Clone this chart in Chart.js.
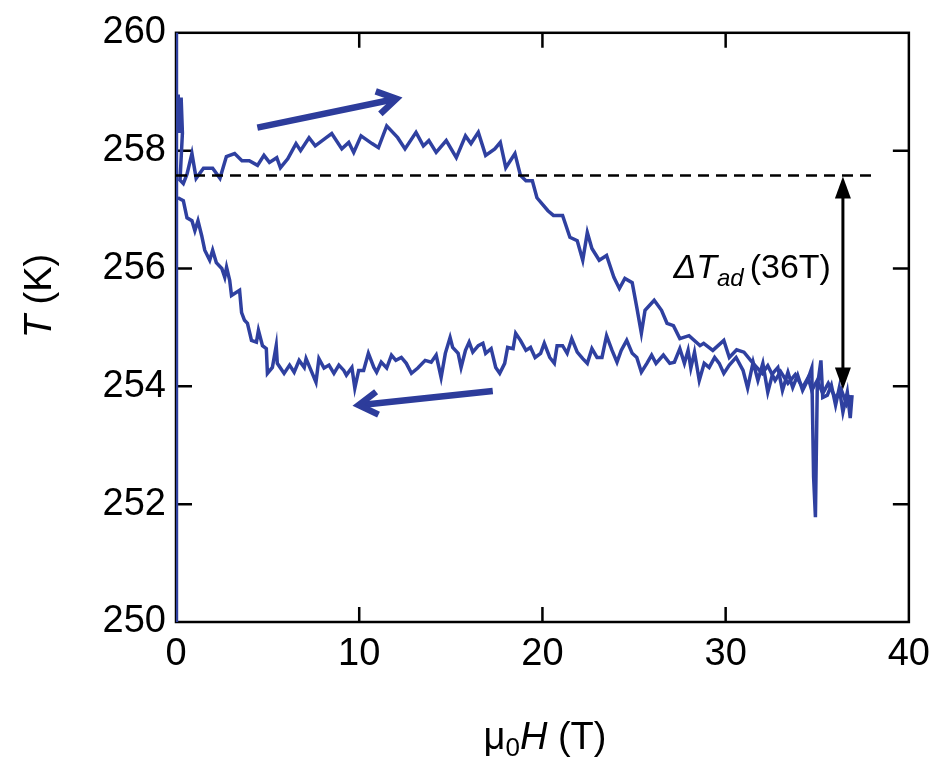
<!DOCTYPE html>
<html>
<head>
<meta charset="utf-8">
<script src="https://cdn.jsdelivr.net/npm/chart.js@4.4.1/dist/chart.umd.min.js"></script>
<style>
  body { margin: 0; background: #fff; }
</style>
</head>
<body>
<canvas id="chart" width="940" height="757"></canvas>
<script>
// field sweep up (T vs mu0H)
const upField = [0, 0, 0.05, 0.12, 0.2, 0.28, 0.35, 0.22, 0.4, 0.6, 0.87, 1.1, 1.5, 2.0, 2.4, 2.75, 3.2, 3.6, 4.0, 4.45,
  4.8, 5.1, 5.5, 5.7, 6.1, 6.55, 6.8, 7.26, 7.6, 8.2, 8.5, 9.05, 9.43, 9.7, 10.1, 10.7, 11.05, 11.5, 12.1, 12.5,
  13.1, 13.5, 13.8, 14.2, 14.75, 15.3, 15.8, 16.1, 16.5, 16.9, 17.4, 17.7, 18.0, 18.5, 18.8, 19.1, 19.45, 19.7, 20.3, 20.6,
  21.1, 21.5, 21.9, 22.2, 22.45, 22.7, 23.1, 23.5, 23.9, 24.2, 24.5, 24.9, 25.15, 25.4, 25.6, 26.1, 26.5, 26.8, 27.15, 27.5,
  28.0, 28.6, 28.8, 29.3, 29.9, 30.2, 30.6, 31.0, 31.5, 32.0, 32.3, 32.7, 33.0, 33.4, 33.8, 34.2, 34.5, 34.7, 35.0, 35.3,
  35.6, 36.0, 36.3, 36.6, 36.8];
const upTemp = [250, 260.3, 258.3, 258.95, 258.3, 258.9, 258.3, 257.5, 257.44, 257.6, 257.95, 257.53, 257.7, 257.7, 257.53, 257.9, 257.95, 257.83, 257.83, 257.75,
  257.92, 257.8, 257.88, 257.71, 257.86, 258.12, 258.0, 258.22, 258.08, 258.22, 258.29, 258.03, 258.14, 257.97, 258.25, 258.12, 258.05, 258.42, 258.22, 258.03,
  258.31, 258.08, 258.17, 257.97, 258.17, 257.88, 258.25, 258.12, 258.31, 257.92, 258.03, 258.14, 257.71, 257.95, 257.58, 257.49, 257.49, 257.2, 256.98, 256.9,
  256.9, 256.53, 256.47, 256.14, 256.61, 256.34, 256.14, 256.22, 255.85, 255.66, 255.83, 255.76, 255.34, 254.9, 255.29, 255.46, 255.29, 255.07, 255.03, 254.81,
  254.86, 254.69, 254.73, 254.61, 254.78, 254.49, 254.62, 254.58, 254.39, 254.22, 254.35, 254.1, 254.25, 254.05, 254.2, 253.98, 254.15, 253.93, 254.1, 253.88,
  254.05, 253.8, 253.95, 253.7, 253.85];

// field sweep down (listed from low field to high field)
const downField = [0.1, 0.4, 0.6, 0.87, 1.03, 1.2, 1.4, 1.57, 1.84, 2.0, 2.2, 2.5, 2.66, 2.76, 2.93, 3.03, 3.47, 3.58, 3.74, 3.9,
  4.12, 4.39, 4.5, 4.72, 4.93, 4.99, 5.26, 5.47, 5.53,
  5.9, 6.2, 6.45, 6.72, 7.0, 7.1, 7.37, 7.64, 7.8, 8.08, 8.35, 8.62, 8.89, 9.16, 9.3, 9.6, 9.76, 9.97, 10.24, 10.5,
  10.8, 10.95, 11.2, 11.5, 11.76, 12.0, 12.3, 12.57, 12.85, 13.2, 13.6, 13.93, 14.2, 14.47, 14.7, 14.96, 15.1, 15.4, 15.56, 15.8,
  16.0, 16.2, 16.5, 16.75, 16.9, 17.2, 17.45, 17.67, 17.94, 18.1, 18.4, 18.54, 18.8, 19.1, 19.35, 19.6, 19.9, 20.1, 20.4, 20.65, 20.8,
  21.1, 21.35, 21.6, 21.9, 22.2, 22.45, 22.7, 22.98, 23.25, 23.5, 23.8, 24.07, 24.3, 24.6, 24.9, 25.15, 25.4, 25.7, 25.96, 26.2,
  26.6, 26.95, 27.2, 27.5, 27.75, 27.95, 28.1, 28.3, 28.56, 28.83, 29.1, 29.4, 29.65, 29.9, 30.2, 30.57, 30.95, 31.2, 31.5, 31.76,
  32.03, 32.3, 32.57, 32.85, 33.1, 33.4, 33.66, 33.93, 34.2, 34.47, 34.7, 34.8, 34.9, 35.0, 35.2, 35.3, 35.55, 35.77, 36.0, 36.2,
  36.4, 36.64, 36.8, 36.9];
const downTemp = [257.2, 257.15, 256.86, 256.81, 256.64, 256.81, 256.56, 256.31, 256.14, 256.31, 256.1, 256.0, 255.85, 256.02, 255.8, 255.54, 255.63, 255.25, 255.12, 255.07,
  254.78, 254.75, 254.95, 254.69, 254.64, 254.22, 254.32, 254.69, 254.39,
  254.22, 254.36, 254.24, 254.44, 254.32, 254.47, 254.27, 254.07, 254.47, 254.31, 254.36, 254.22, 254.36, 254.27, 254.19, 254.32, 253.97, 254.27, 254.27, 254.56,
  254.32, 254.24, 254.41, 254.31, 254.53, 254.44, 254.49, 254.39, 254.22, 254.31, 254.44, 254.41, 254.53, 254.15, 254.56, 254.83, 254.66, 254.56, 254.32, 254.61,
  254.75, 254.58, 254.69, 254.73, 254.56, 254.64, 254.32, 254.22, 254.39, 254.66, 254.64, 254.9, 254.78, 254.61, 254.66, 254.49, 254.56, 254.73, 254.49, 254.39, 254.69,
  254.69, 254.56, 254.81, 254.58, 254.47, 254.39, 254.64, 254.49, 254.49, 254.86, 254.61, 254.41, 254.61, 254.78, 254.56, 254.49, 254.24, 254.39, 254.53, 254.39,
  254.53, 254.39, 254.41, 254.64, 254.39, 254.61, 254.31, 254.58, 254.1, 254.39, 254.32, 254.49, 254.39, 254.22, 254.36, 254.49, 254.27, 253.97, 254.41, 254.1,
  254.39, 253.9, 254.22, 254.32, 253.93, 254.24, 253.98, 254.19, 253.93, 254.1, 254.31, 252.46, 251.78, 253.98, 254.44, 253.81, 253.85, 254.02, 253.68, 253.97,
  253.56, 253.9, 253.46, 253.85];

const xTicks = [0, 10, 20, 30, 40];
const yTicks = [250, 252, 254, 256, 258, 260];

// reference level and adiabatic temperature change at 36 T
const tStart = 257.58;
const tEnd = 253.93;
const dashEnd = 38.2;
const deltaAt = 36.4;
const deltaLabel = '(36T)';

const blue = 'rgb(47,64,160)';
const FONT = '"Liberation Sans", Arial, Helvetica, sans-serif';

function toPoints(xs, ys) {
  return xs.map((v, i) => ({ x: v, y: ys[i] }));
}

function arrow(ctx, x1, y1, x2, y2, color, width, head) {
  const ang = Math.atan2(y2 - y1, x2 - x1);
  ctx.save();
  ctx.strokeStyle = color;
  ctx.lineWidth = width;
  ctx.lineCap = 'butt';
  ctx.lineJoin = 'miter';
  ctx.beginPath();
  ctx.moveTo(x1, y1);
  ctx.lineTo(x2, y2);
  ctx.stroke();
  ctx.beginPath();
  ctx.moveTo(x2 - head * Math.cos(ang - 0.55), y2 - head * Math.sin(ang - 0.55));
  ctx.lineTo(x2, y2);
  ctx.lineTo(x2 - head * Math.cos(ang + 0.55), y2 - head * Math.sin(ang + 0.55));
  ctx.stroke();
  ctx.restore();
}

function triangle(ctx, x, y, dir) {
  ctx.beginPath();
  ctx.moveTo(x, y);
  ctx.lineTo(x - 8, y + dir * 22);
  ctx.lineTo(x + 8, y + dir * 22);
  ctx.closePath();
  ctx.fill();
}

const framePlugin = {
  id: 'frame',
  beforeDatasetsDraw(chart) {
    const { ctx, chartArea: a, scales: { x, y } } = chart;
    ctx.save();
    ctx.strokeStyle = '#000';
    ctx.lineWidth = 2.5;
    ctx.strokeRect(a.left, a.top, a.right - a.left, a.bottom - a.top);
    ctx.beginPath();
    xTicks.slice(1, -1).forEach(v => {
      const px = x.getPixelForValue(v);
      ctx.moveTo(px, a.bottom); ctx.lineTo(px, a.bottom - 15);
      ctx.moveTo(px, a.top); ctx.lineTo(px, a.top + 15);
    });
    yTicks.slice(1, -1).forEach(v => {
      const py = y.getPixelForValue(v);
      ctx.moveTo(a.left, py); ctx.lineTo(a.left + 16, py);
      ctx.moveTo(a.right, py); ctx.lineTo(a.right - 16, py);
    });
    ctx.stroke();

    // axis titles
    ctx.fillStyle = '#000';
    ctx.textBaseline = 'alphabetic';
    ctx.save();
    ctx.translate(51, 296);
    ctx.rotate(-Math.PI / 2);
    ctx.font = 'italic 38px ' + FONT;
    const wT = ctx.measureText('T').width;
    ctx.font = '38px ' + FONT;
    const wK = ctx.measureText(' (K)').width;
    let sx = -(wT + wK) / 2;
    ctx.font = 'italic 38px ' + FONT;
    ctx.fillText('T', sx, 0);
    ctx.font = '38px ' + FONT;
    ctx.fillText(' (K)', sx + wT, 0);
    ctx.restore();

    const base = 749;
    ctx.font = '38px ' + FONT;
    const wMu = ctx.measureText('\u03bc').width;
    const wP = ctx.measureText(' (T)').width;
    ctx.font = '26px ' + FONT;
    const w0 = ctx.measureText('0').width;
    ctx.font = 'italic 38px ' + FONT;
    const wH = ctx.measureText('H').width;
    let tx = 545 - (wMu + w0 + wH + wP) / 2;
    ctx.font = '38px ' + FONT;
    ctx.fillText('\u03bc', tx, base); tx += wMu;
    ctx.font = '26px ' + FONT;
    ctx.fillText('0', tx, base + 7); tx += w0;
    ctx.font = 'italic 38px ' + FONT;
    ctx.fillText('H', tx, base); tx += wH;
    ctx.font = '38px ' + FONT;
    ctx.fillText(' (T)', tx, base);
    ctx.restore();
  },
  afterDatasetsDraw(chart) {
    const { ctx, scales: { x, y } } = chart;
    ctx.save();
    // double arrow for delta T_ad
    const ax = x.getPixelForValue(deltaAt);
    const y1 = y.getPixelForValue(tStart);
    const y2 = y.getPixelForValue(tEnd);
    ctx.strokeStyle = '#000';
    ctx.fillStyle = '#000';
    ctx.lineWidth = 3;
    ctx.beginPath();
    ctx.moveTo(ax, y1 + 10); ctx.lineTo(ax, y2 - 10);
    ctx.stroke();
    triangle(ctx, ax, y1 + 1, 1);
    triangle(ctx, ax, y2 - 1, -1);

    // label
    let lx = x.getPixelForValue(27.15);
    const ly = y.getPixelForValue(255.84);
    ctx.textBaseline = 'alphabetic';
    ctx.font = 'italic 34px ' + FONT;
    ctx.fillText('\u0394T', lx, ly);
    lx += ctx.measureText('\u0394T').width;
    ctx.font = 'italic 24px ' + FONT;
    ctx.fillText('ad', lx, ly + 8);
    lx += ctx.measureText('ad').width + 6;
    ctx.font = '34px ' + FONT;
    ctx.fillText(deltaLabel, lx, ly);

    // sweep direction arrows
    arrow(ctx, x.getPixelForValue(4.44), y.getPixelForValue(258.39),
      x.getPixelForValue(12.03), y.getPixelForValue(258.88), 'rgb(45,60,155)', 6.5, 22);
    arrow(ctx, x.getPixelForValue(17.29), y.getPixelForValue(253.92),
      x.getPixelForValue(9.97), y.getPixelForValue(253.68), 'rgb(45,60,155)', 6.5, 22);
    ctx.restore();
  }
};

const ctx = document.getElementById('chart').getContext('2d');
const chart = new Chart(ctx, {
  type: 'scatter',
  data: {
    datasets: [
      {
        label: 'ref',
        data: [{ x: 0, y: tStart }, { x: dashEnd, y: tStart }],
        showLine: true,
        borderColor: '#000',
        borderWidth: 2.5,
        borderDash: [11, 7],
        pointRadius: 0
      },
      {
        label: 'up',
        data: toPoints(upField, upTemp),
        showLine: true,
        borderColor: blue,
        borderWidth: 3.5,
        pointRadius: 0,
        tension: 0
      },
      {
        label: 'down',
        data: toPoints(downField, downTemp),
        showLine: true,
        borderColor: blue,
        borderWidth: 3.5,
        pointRadius: 0,
        tension: 0
      }
    ]
  },
  options: {
    responsive: false,
    animation: false,
    layout: { padding: { left: 0, top: 32, right: 26, bottom: 0 } },
    plugins: {
      legend: { display: false },
      tooltip: { enabled: false }
    },
    scales: {
      x: {
        type: 'linear',
        min: 0,
        max: 40,
        afterBuildTicks: s => { s.ticks = xTicks.map(v => ({ value: v })); },
        afterFit: s => { s.height = 135; },
        grid: { display: false, drawTicks: false },
        border: { display: false },
        ticks: { color: '#000', padding: 10, font: { family: FONT, size: 38 } }
      },
      y: {
        type: 'linear',
        min: 250,
        max: 260,
        afterBuildTicks: s => { s.ticks = yTicks.map(v => ({ value: v })); },
        afterFit: s => { s.width = 176; },
        grid: { display: false, drawTicks: false },
        border: { display: false },
        ticks: { color: '#000', padding: 10, font: { family: FONT, size: 38 } }
      }
    }
  },
  plugins: [framePlugin]
});
</script>
</body>
</html>
